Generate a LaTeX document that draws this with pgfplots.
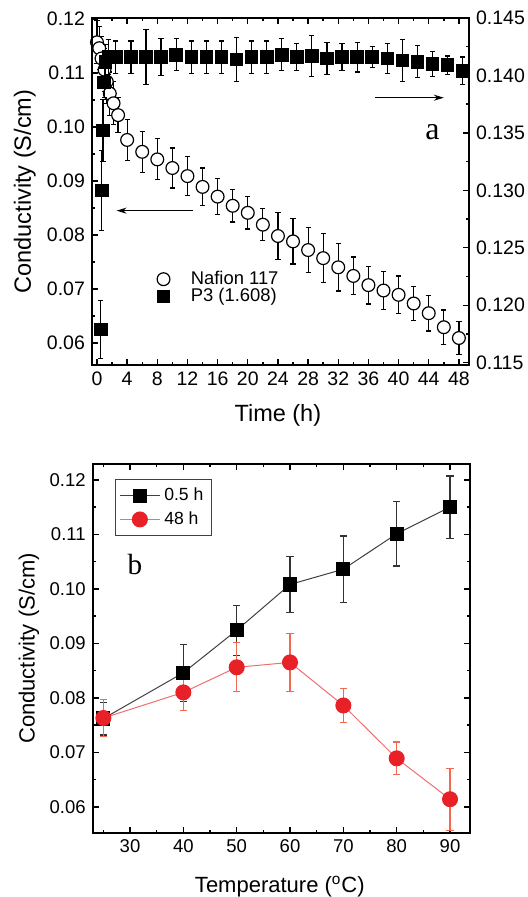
\documentclass[border=0pt]{standalone}
\usepackage{fontspec}
\setmainfont{Liberation Sans}
\newfontfamily\seriffont{Liberation Serif}
\usepackage{pgfplots}
\usepackage{pgfplotstable}
\pgfplotsset{compat=1.18}
\usetikzlibrary{arrows.meta}
\definecolor{myred}{RGB}{232,32,40}
\definecolor{redline}{RGB}{240,110,110}
\definecolor{rederr}{RGB}{240,105,80}

\pgfplotstableread{
t c e
0 0.1157 0.0040
0.3 0.1146 0.0040
0.6 0.1127 0.0040
1.0 0.1106 0.0040
1.3 0.1084 0.0040
1.7 0.1062 0.0040
2.2 0.1044 0.0040
2.8 0.1022 0.0032
4 0.0976 0.0038
6 0.0954 0.0038
8 0.0940 0.0038
10 0.0924 0.0037
12 0.0909 0.0036
14 0.0889 0.0035
16 0.0871 0.0033
18 0.0854 0.0030
20 0.0841 0.0030
22 0.0819 0.0030
24 0.0798 0.0043
26 0.0788 0.0042
28 0.0772 0.0042
30 0.0757 0.0045
32 0.0740 0.0044
34 0.0724 0.0035
36 0.0707 0.0035
38 0.0697 0.0035
40 0.0689 0.0035
42 0.0673 0.0032
44 0.0655 0.0033
46 0.0629 0.0032
48 0.0609 0.0031
}\nafion

\pgfplotstableread{
t c e
0.5 0.1179 0.0025
0.65 0.1300 0.0035
0.8 0.1352 0.0027
0.95 0.1394 0.0013
1.1 0.1412 0.0015
1.5 0.1416 0.0015
2.5 0.1416 0.0014
4.5 0.1416 0.0014
6.5 0.1416 0.0024
8.5 0.1416 0.0016
10.5 0.1418 0.0014
12.5 0.1416 0.0014
14.5 0.1416 0.0014
16.5 0.1416 0.0014
18.5 0.1414 0.0019
20.5 0.1416 0.0014
22.5 0.1416 0.0014
24.5 0.1418 0.0014
26.5 0.1416 0.0012
28.5 0.1417 0.0018
30.5 0.1415 0.0014
32.5 0.1416 0.0012
34.5 0.1416 0.0013
36.5 0.1416 0.0009
38.5 0.1415 0.0013
40.5 0.1413 0.0018
42.5 0.1412 0.0014
44.5 0.1410 0.0011
46.5 0.1409 0.0008
48.5 0.1404 0.0012
}\pthree

\pgfplotstableread{
T c e
25 0.0762 0.0030
40 0.0846 0.0052
50 0.0924 0.0046
60 0.1008 0.0051
70 0.1036 0.0061
80 0.1101 0.0059
90 0.1150 0.0057
}\halfh

\pgfplotstableread{
T c e
25 0.0763 0.0034
40 0.0810 0.0033
50 0.0856 0.0045
60 0.0865 0.0053
70 0.0786 0.0031
80 0.0689 0.0030
90 0.0614 0.0057
}\fortyeight

\begin{document}
\begin{tikzpicture}
\useasboundingbox (0,0) rectangle (264pt,-448.5pt);
\pgfplotsset{
  common/.style={
    scale only axis,
    /pgf/number format/assume math mode=true,
    tick align=inside,
    major tick length=3pt, minor tick length=1.7pt,
    every tick/.style={black, line width=0.7pt},
    axis line style={line width=0.9pt},
    clip=false,
    scaled y ticks=false,
  }
}
% ---------------- panel a, left axis (Nafion)
\begin{axis}[common,
  at={(46pt,-182.5pt)}, anchor=south west,
  width=188.5pt, height=173.5pt,
  xmin=-0.66, xmax=49.34,
  ymin=0.0559, ymax=0.1202,
  xtick={0,4,...,48}, minor xtick={2,6,...,46},
  ytick={0.06,0.07,0.08,0.09,0.10,0.11,0.12},
  minor ytick={0.065,0.075,0.085,0.095,0.105,0.115},
  ytick pos=left,
  y tick label style={/pgf/number format/.cd, fixed, fixed zerofill, precision=2, /tikz/.cd},
  tick label style={font=\fontsize{9.75}{11}\selectfont},
  xlabel={Time (h)}, ylabel={Conductivity (S/cm)},
  label style={font=\fontsize{11.75}{13}\selectfont},
  xlabel style={at={(axis description cs:0.493,-0.146)}, anchor=center},
  ylabel style={at={(axis description cs:-0.178,0.5)}, anchor=center},
  legend style={draw=none, fill=none, at={(axis description cs:0.135,0.295)}, anchor=north west,
    font=\fontsize{9.2}{10}\selectfont, row sep=-3.5pt},
  legend cell align=left,
  legend image code/.code={\path[draw=none] (0cm,0cm) rectangle (0.66cm,0.01cm); \draw[#1, only marks] plot coordinates {(0.25cm,0cm)};},
]
\addplot[only marks, mark=*, mark size=3.2pt,
  mark options={fill=white, draw=black, line width=0.6pt},
  error bars/.cd, y dir=both, y explicit,
  error bar style={black, line width=0.6pt},
  error mark options={rotate=90, mark size=1.3pt, line width=0.6pt}]
  table[x=t, y=c, y error=e] {\nafion};
\addlegendentry{Nafion 117}
\addlegendimage{only marks, mark=square*, mark size=3pt, black}
\addlegendentry{P3 (1.608)}
\draw[line width=0.6pt, -{Stealth[length=5pt, width=3pt]}] (axis cs:12.8,0.0845) -- (axis cs:2.6,0.0845);
\draw[line width=0.6pt, -{Stealth[length=5pt, width=3pt]}] (axis cs:36.9,0.10543) -- (axis cs:46.0,0.10543);
\node[font=\seriffont\fontsize{16}{18}\selectfont] at (axis cs:44.5,0.0990) {a};
\end{axis}
% ---------------- panel a, right axis (P3)
\begin{axis}[common,
  at={(46pt,-182.5pt)}, anchor=south west,
  width=188.5pt, height=173.5pt,
  xmin=-0.66, xmax=49.34,
  ymin=0.1148, ymax=0.1450,
  hide x axis,
  ytick pos=right, yticklabel pos=right,
  ytick={0.115,0.120,0.125,0.130,0.135,0.140,0.145},
  minor ytick={0.1175,0.1225,0.1275,0.1325,0.1375,0.1425},
  y tick label style={/pgf/number format/.cd, fixed, fixed zerofill, precision=3, /tikz/.cd},
  tick label style={font=\fontsize{9.75}{11}\selectfont},
]
\addplot[only marks, mark=square*, mark size=3.15pt, black,
  error bars/.cd, y dir=both, y explicit,
  error bar style={black, line width=0.6pt},
  error mark options={rotate=90, mark size=1.3pt, line width=0.6pt}]
  table[x=t, y=c, y error=e] {\pthree};
\end{axis}
% ---------------- panel b
\begin{axis}[common,
  at={(46.35pt,-416.5pt)}, anchor=south west,
  width=188.65pt, height=184.5pt,
  xmin=23, xmax=93.75,
  ymin=0.0552, ymax=0.1229,
  xtick={30,40,...,90}, minor xtick={25,35,...,85},
  ytick={0.06,0.07,0.08,0.09,0.10,0.11,0.12},
  minor ytick={0.065,0.075,0.085,0.095,0.105,0.115},
  y tick label style={/pgf/number format/.cd, fixed, fixed zerofill, precision=2, /tikz/.cd},
  tick label style={font=\fontsize{9.25}{11}\selectfont},
  xlabel={Temperature (\textsuperscript{o}C)}, ylabel={Conductivity (S/cm)},
  label style={font=\fontsize{11}{13}\selectfont},
  xlabel style={at={(axis description cs:0.496,-0.1455)}, anchor=center},
  ylabel style={at={(axis description cs:-0.169,0.5)}, anchor=center},
  legend style={draw=black!75, line width=0.5pt, fill=white, at={(axis description cs:0.059,0.9585)}, anchor=north west,
    font=\fontsize{8.8}{10}\selectfont, row sep=0pt, inner sep=2pt},
  legend cell align=left,
  legend image code/.code={\draw[mark repeat=2,mark phase=2,#1] plot coordinates {(0cm,0cm)(0.35cm,0cm)(0.7cm,0cm)};},
]
\addplot[color=black!75, line width=0.5pt, mark=square*, mark size=3.3pt,
  mark options={fill=black, draw=black},
  error bars/.cd, y dir=both, y explicit,
  error bar style={black!80, line width=0.6pt},
  error mark options={rotate=90, mark size=1.8pt, line width=0.6pt}]
  table[x=T, y=c, y error=e] {\halfh};
\addlegendentry{0.5 h}
\addplot[color=redline, line width=0.5pt, mark=*, mark size=3.75pt,
  mark options={fill=myred, draw=myred},
  error bars/.cd, y dir=both, y explicit,
  error bar style={rederr, line width=0.6pt},
  error mark options={rotate=90, mark size=1.8pt, line width=0.6pt}]
  table[x=T, y=c, y error=e] {\fortyeight};
\addlegendentry{48 h}
\node[font=\seriffont\fontsize{14.6}{16}\selectfont] at (axis cs:30.9,0.1044) {b};
\end{axis}
\end{tikzpicture}
\end{document}
